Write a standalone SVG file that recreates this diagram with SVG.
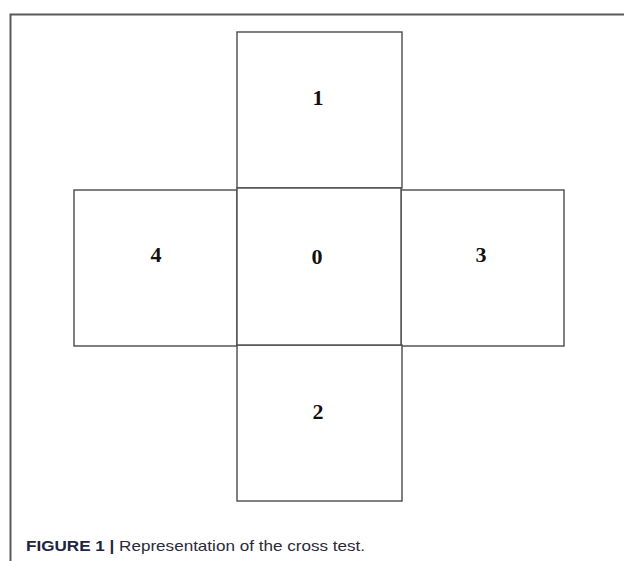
<svg xmlns="http://www.w3.org/2000/svg" width="624" height="561" viewBox="0 0 624 561">
<style>
.box{fill:#fff;stroke:#4a4a4a;stroke-width:1.4}
.lbl{font-family:"Liberation Serif","Times New Roman",serif;font-weight:bold;font-size:22px;fill:#111;text-anchor:middle}
.cap{font-family:"Liberation Sans Narrow","Liberation Sans",Arial,sans-serif;font-size:15px;fill:#2a2a3a}
</style>
<rect width="624" height="561" fill="#fff"/>
<path d="M10.5 561 V14.5 H624" fill="none" stroke="#5a5a5a" stroke-width="2"/>
<g id="node-4"><rect class="box" x="74" y="190" width="163" height="156"/><text class="lbl" x="156" y="262">4</text></g>
<g id="node-3"><rect class="box" x="401" y="190" width="163" height="156"/><text class="lbl" x="481" y="262">3</text></g>
<g id="node-1"><rect class="box" x="237" y="32" width="165" height="156"/><text class="lbl" x="318" y="105">1</text></g>
<g id="node-2"><rect class="box" x="237" y="345" width="165" height="156"/><text class="lbl" x="318" y="419">2</text></g>
<g id="node-0"><rect class="box" x="237" y="188" width="164" height="157"/><text class="lbl" x="317" y="264">0</text></g>
<g id="connectors"></g>
<text class="cap" x="26" y="551" textLength="339" lengthAdjust="spacingAndGlyphs"><tspan font-weight="bold" fill="#1d2540">FIGURE 1 |</tspan> Representation of the cross test.</text>
</svg>
